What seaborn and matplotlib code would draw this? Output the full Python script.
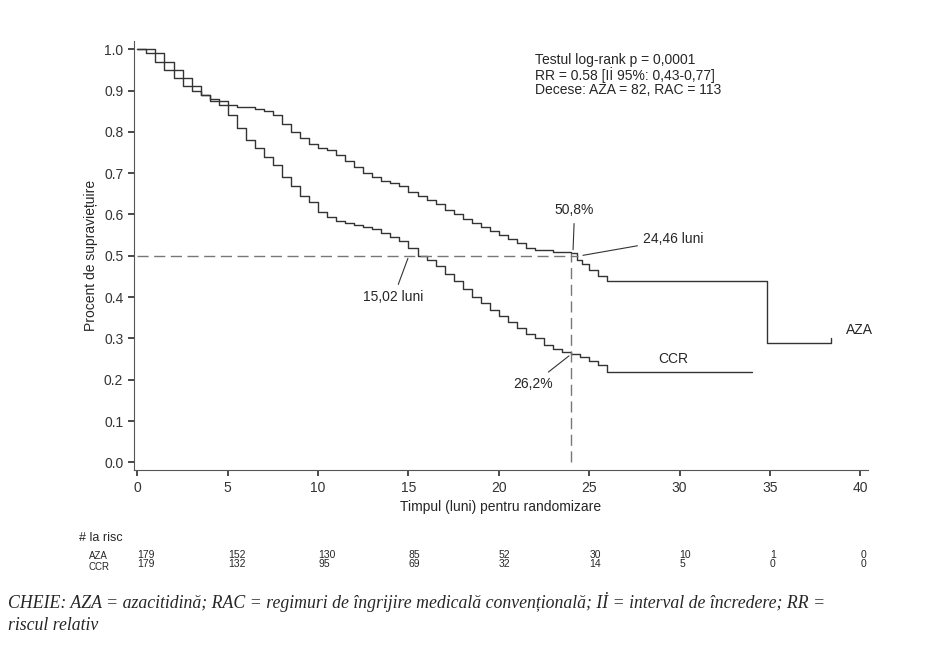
import matplotlib
matplotlib.use("Agg")
import matplotlib.pyplot as plt
import seaborn as sns
import pandas as pd

sns.set_theme(style="ticks")
plt.rcParams['font.family'] = ['Liberation Sans Narrow', 'Liberation Sans', 'DejaVu Sans']

aza_t = [0, 0.5, 1, 1.5, 2, 2.5, 3, 3.5, 4, 4.5, 5, 5.5, 6, 6.5, 7, 7.5, 8, 8.5, 9, 9.5, 10, 10.5, 11, 11.5, 12, 12.5, 13, 13.5, 14, 14.5, 15, 15.5, 16, 16.5, 17, 17.5, 18, 18.5, 19, 19.5, 20, 20.5, 21, 21.5, 22, 23, 24, 24.3, 24.6, 25, 25.5, 26, 34.8, 34.81, 38.4]
aza_s = [1.0, 0.99, 0.97, 0.95, 0.93, 0.91, 0.90, 0.89, 0.88, 0.875, 0.865, 0.86, 0.86, 0.855, 0.85, 0.84, 0.82, 0.80, 0.785, 0.77, 0.76, 0.755, 0.745, 0.73, 0.715, 0.70, 0.69, 0.68, 0.675, 0.67, 0.655, 0.645, 0.635, 0.625, 0.61, 0.60, 0.59, 0.58, 0.57, 0.56, 0.55, 0.54, 0.53, 0.52, 0.515, 0.51, 0.508, 0.49, 0.48, 0.465, 0.45, 0.44, 0.44, 0.29, 0.30]
ccr_t = [0, 0.5, 1, 1.5, 2, 2.5, 3, 3.5, 4, 4.5, 5, 5.5, 6, 6.5, 7, 7.5, 8, 8.5, 9, 9.5, 10, 10.5, 11, 11.5, 12, 12.5, 13, 13.5, 14, 14.5, 15, 15.5, 16, 16.5, 17, 17.5, 18, 18.5, 19, 19.5, 20, 20.5, 21, 21.5, 22, 22.5, 23, 23.5, 24, 24.5, 25, 25.5, 26, 34]
ccr_s = [1.0, 1.0, 0.99, 0.97, 0.95, 0.93, 0.91, 0.89, 0.875, 0.865, 0.84, 0.81, 0.78, 0.76, 0.74, 0.72, 0.69, 0.67, 0.645, 0.63, 0.605, 0.595, 0.585, 0.58, 0.575, 0.57, 0.565, 0.555, 0.545, 0.535, 0.52, 0.50, 0.49, 0.475, 0.455, 0.44, 0.42, 0.40, 0.385, 0.37, 0.355, 0.34, 0.325, 0.31, 0.30, 0.285, 0.275, 0.268, 0.262, 0.255, 0.245, 0.235, 0.22, 0.22]
risk_times = [0, 5, 10, 15, 20, 25, 30, 35, 40]
risk_aza = [179, 152, 130, 85, 52, 30, 10, 1, 0]
risk_ccr = [179, 132, 95, 69, 32, 14, 5, 0, 0]

df = pd.concat([pd.DataFrame({"t": aza_t, "s": aza_s, "g": "AZA"}),
                pd.DataFrame({"t": ccr_t, "s": ccr_s, "g": "CCR"})])

fig = plt.figure(figsize=(9.42, 6.46), dpi=100)
ax = fig.add_axes([0.142, 0.272, 0.779, 0.664])
sns.lineplot(data=df, x="t", y="s", hue="g", palette={"AZA": "#333333", "CCR": "#333333"},
             drawstyle="steps-post", legend=False, ax=ax, linewidth=1.0)
ax.set_xlim(-0.2, 40.4)
ax.set_ylim(-0.019, 1.019)
ax.set_xticks(range(0, 41, 5))
ax.set_yticks([i / 10 for i in range(11)])
ax.set_yticklabels([f"{i/10:.1f}" for i in range(11)])
ax.tick_params(labelsize=10, colors="#333333", length=4)
sns.despine(ax=ax)
for sp in ax.spines.values():
    sp.set_color("#555555"); sp.set_linewidth(0.8)
ax.set_xlabel("Timpul (luni) pentru randomizare", fontsize=10)
ax.set_ylabel("Procent de supraviețuire", fontsize=10)

ax.plot([0, 24.4], [0.5, 0.5], ls=(0, (8, 4)), color="#777777", lw=1)
ax.plot([24, 24], [0, 0.508], ls=(0, (8, 4)), color="#777777", lw=1)

ax.text(22, 0.99, "Testul log-rank p = 0,0001\nRR = 0.58 [Iİ 95%: 0,43-0,77]\nDecese: AZA = 82, RAC = 113",
        fontsize=10, va="top", linespacing=1.0)
ax.annotate("50,8%", xy=(24.1, 0.508), xytext=(23.1, 0.6), fontsize=10,
            arrowprops=dict(arrowstyle="-", color="#333333", lw=0.8))
ax.annotate("24,46 luni", xy=(24.5, 0.50), xytext=(28, 0.53), fontsize=10,
            arrowprops=dict(arrowstyle="-", color="#333333", lw=0.8))
ax.annotate("15,02 luni", xy=(15.02, 0.5), xytext=(12.5, 0.39), fontsize=10,
            arrowprops=dict(arrowstyle="-", color="#333333", lw=0.8))
ax.annotate("26,2%", xy=(24, 0.262), xytext=(20.8, 0.18), fontsize=10,
            arrowprops=dict(arrowstyle="-", color="#333333", lw=0.8))
ax.text(28.8, 0.24, "CCR", fontsize=10)
ax.text(39.2, 0.31, "AZA", fontsize=10)

tr = ax.get_xaxis_transform()
fig.text(0.084, 0.163, "# la risc", fontsize=9)
fig.text(0.094, 0.135, "AZA", fontsize=7)
fig.text(0.094, 0.118, "CCR", fontsize=7)
for t, a, c in zip(risk_times, risk_aza, risk_ccr):
    ax.text(t, -0.205, str(a), transform=tr, fontsize=7.5, ha="left")
    ax.text(t, -0.225, str(c), transform=tr, fontsize=7.5, ha="left")

fig.text(0.008, 0.025,
         "CHEIE: AZA = azacitidină; RAC = regimuri de îngrijire medicală convențională; Iİ = interval de încredere; RR =\nriscul relativ",
         fontsize=12.8, family=["Liberation Serif", "DejaVu Serif"], style="italic", linespacing=1.4)
fig.savefig("out.png", dpi=100)
